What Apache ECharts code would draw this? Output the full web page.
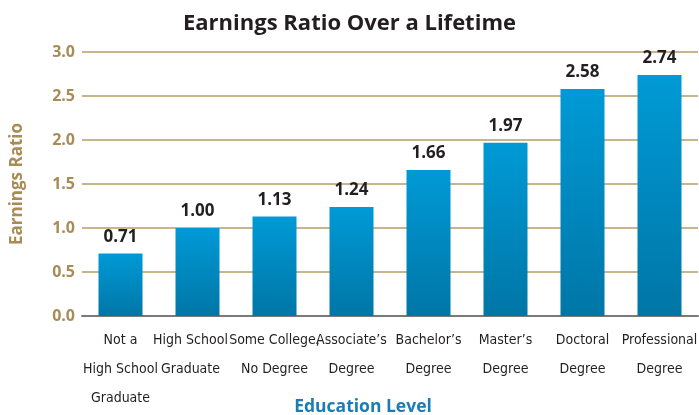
<!DOCTYPE html>
<html>
<head>
<meta charset="utf-8">
<script src="https://cdn.jsdelivr.net/npm/echarts@6/dist/echarts.min.js"></script>
<style>
  html, body { margin: 0; padding: 0; background: #fff; }
  #chart { width: 699px; height: 415px; }
</style>
</head>
<body>
<div id="chart"></div>
<script>
// data
const categories = [
  "Not a\nHigh School\nGraduate",
  "High School\nGraduate",
  "Some College,\nNo Degree",
  "Associate’s\nDegree",
  "Bachelor’s\nDegree",
  "Master’s\nDegree",
  "Doctoral\nDegree",
  "Professional\nDegree"
];
const ratios = [0.71, 1.00, 1.13, 1.24, 1.66, 1.97, 2.58, 2.74];
const yTicks = { min: 0, max: 3, interval: 0.5 };

const chart = echarts.init(document.getElementById("chart"));

// "High School" sits a little left of its bar in the original
const xData = categories.map((c, i) =>
  i === 1 ? { value: c, textStyle: { padding: [0, 14, 0, 0] } } : c
);

chart.setOption({
  animation: false,
  title: {
    text: "Earnings Ratio Over a Lifetime",
    left: "center",
    top: 8,
    textStyle: {
      fontFamily: "Open Sans",
      fontWeight: "bold",
      fontSize: 22,
      color: "#231f20"
    }
  },
  grid: {
    left: 82,
    right: 1,
    top: 52,
    bottom: 99,
    outerBoundsMode: "none"
  },
  xAxis: {
    type: "category",
    data: xData,
    name: "Education Level",
    nameLocation: "middle",
    nameGap: 82,
    nameMoveOverlap: false,
    nameTextStyle: {
      fontFamily: "Open Sans",
      fontWeight: "bold",
      fontSize: 17.5,
      color: "#1b7db3",
      padding: [0, 54, 0, 0]
    },
    axisLine: { lineStyle: { color: "#7a7a7a", width: 2 } },
    axisTick: { show: false },
    axisLabel: {
      interval: 0,
      margin: 10,
      fontFamily: "DejaVu Sans Condensed, DejaVu Sans",
      fontSize: 14,
      lineHeight: 29,
      color: "#231f20"
    }
  },
  yAxis: {
    type: "value",
    min: yTicks.min,
    max: yTicks.max,
    interval: yTicks.interval,
    name: "Earnings Ratio",
    nameLocation: "middle",
    nameGap: 56,
    nameTextStyle: {
      fontFamily: "Open Sans",
      fontWeight: "bold",
      fontSize: 17,
      color: "#a88b55"
    },
    axisLine: { show: false },
    axisTick: { show: false },
    axisLabel: {
      margin: 7,
      fontFamily: "Open Sans",
      fontWeight: "bold",
      fontSize: 16,
      color: "#a88b55",
      formatter: v => v.toFixed(1)
    },
    splitLine: { lineStyle: { color: "#c9b58c", width: 2 } }
  },
  series: [
    {
      type: "bar",
      data: ratios,
      barWidth: 44,
      itemStyle: {
        color: new echarts.graphic.LinearGradient(0, 0, 0, 1, [
          { offset: 0, color: "#009ad6" },
          { offset: 1, color: "#0076a6" }
        ])
      },
      label: {
        show: true,
        position: "top",
        distance: 8,
        formatter: p => p.value.toFixed(2),
        fontFamily: "Open Sans",
        fontWeight: "bold",
        fontSize: 17,
        color: "#231f20"
      }
    }
  ]
});
</script>
</body>
</html>
